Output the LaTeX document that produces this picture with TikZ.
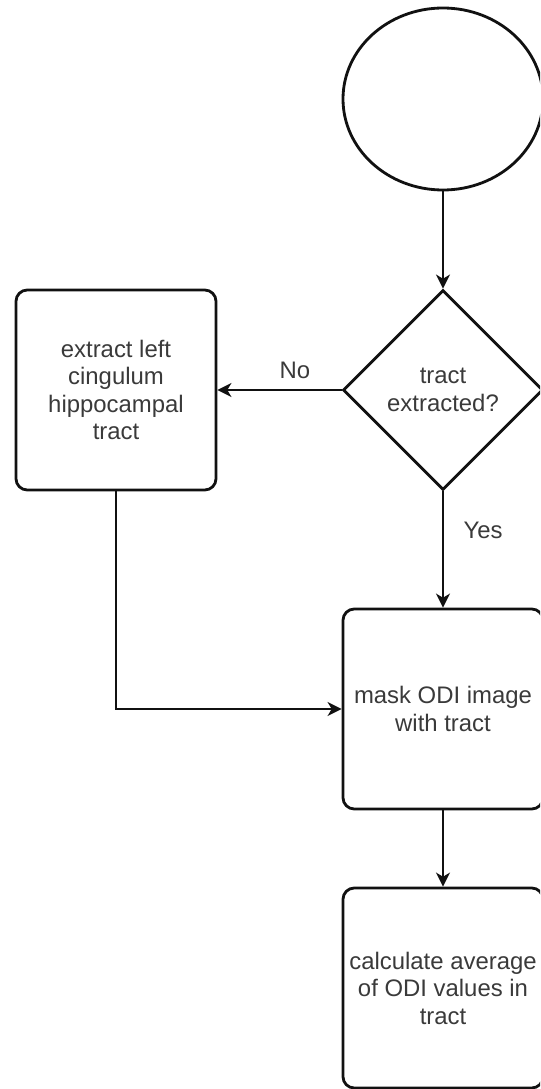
\documentclass[tikz,border=0pt]{standalone}
\usepackage{fontspec}
\setmainfont{Liberation Sans}
\definecolor{ink}{HTML}{111111}
\definecolor{txtg}{HTML}{3A3A3A}
\usetikzlibrary{shapes.geometric,arrows.meta}

\begin{document}
\begin{tikzpicture}[
  st/.style={rectangle, rounded corners=8pt, minimum width=5cm, minimum height=5cm, inner sep=1pt,
             draw=ink, line width=2pt, align=center, font=\fontsize{17}{19.6}\selectfont, text=txtg},
  dc/.style={diamond, aspect=1, minimum width=5cm, minimum height=5cm, inner sep=0pt,
             draw=ink, line width=2pt, align=center, font=\fontsize{17}{19.6}\selectfont, text=txtg},
  tm/.style={ellipse, minimum width=5cm, minimum height=4.55cm, draw=ink, line width=2pt},
  ar/.style={-{Stealth[length=10pt, width=10pt, inset=3pt]}, line width=1.3pt, color=ink},
  lb/.style={font=\fontsize{17}{19.6}\selectfont, text=txtg},
]
\clip (0,0) rectangle (13.5,-27.225);
\node[tm] (start) at (11.075,-2.475) {};
\node[dc] (dec) at (11.075,-9.75) {tract\\extracted?};
\node[st] (ext) at (2.9,-9.75) {extract left\\cingulum\\hippocampal\\tract};
\node[st] (mask) at (11.075,-17.725) {mask ODI image\\with tract};
\node[st] (calc) at (11.075,-24.7) {calculate average\\of ODI values in\\tract};
\node[lb] (no) at (7.375,-9.25) {No};
\node[lb] (yes) at (12.075,-13.25) {Yes};
\draw[ar] (start)--(dec); \draw[ar] (dec)--(ext); \draw[ar] (dec)--(mask);
\draw[ar] (ext.south) |- (mask.west); \draw[ar] (mask)--(calc);
\end{tikzpicture}
\end{document}
